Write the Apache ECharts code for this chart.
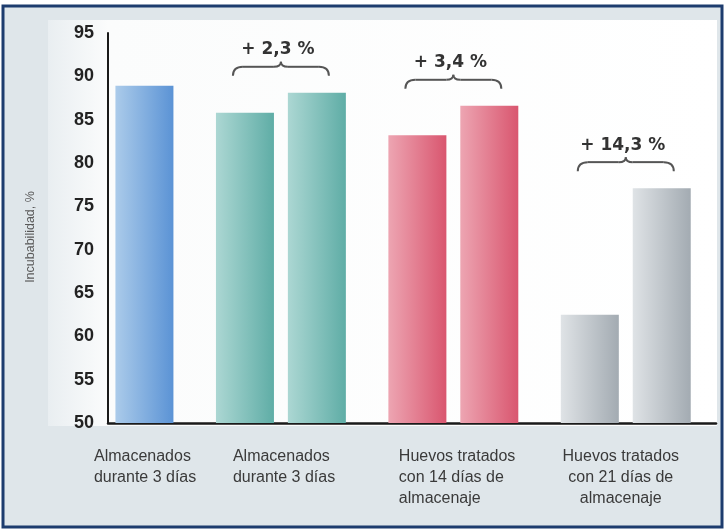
<!DOCTYPE html>
<html><head><meta charset="utf-8">
<script src="https://cdn.jsdelivr.net/npm/echarts@6/dist/echarts.min.js"></script>
<style>html,body{margin:0;padding:0;background:#fff}#c{width:726px;height:531px}</style>
</head><body><div id="c"></div>
<script>
// ---- data ----
const categories = [
  'Almacenados\ndurante 3 días',
  'Almacenados\ndurante 3 días',
  'Huevos tratados\ncon 14 días de\nalmacenaje',
  'Huevos tratados\ncon 21 días de\nalmacenaje'
];
const seriesBefore = [null, 85.8, 83.2, 62.5];
const seriesAfter  = [88.9, 88.1, 86.6, 77.1];
const gainLabels   = [null, '+ 2,3 %', '+ 3,4 %', '+ 14,3 %'];
const yMin = 50, yMax = 95, yStep = 5;
const yAxisName = 'Incubabilidad, %';

// ---- styles ----
const barColors = [
  ['#abcbea', '#5b93d5'],
  ['#acd7d3', '#5fada6'],
  ['#eda5b2', '#d9566f'],
  ['#dfe3e6', '#a3abb2']
];
function grad(pair){
  return new echarts.graphic.LinearGradient(0,0,1,0,[{offset:0,color:pair[0]},{offset:1,color:pair[1]}]);
}
const labelFont = {fontFamily:'"Liberation Sans", Arial, sans-serif', fontSize:16, color:'#3a3a3a', lineHeight:21};
const rich = {
  c0: Object.assign({width:120, align:'left', padding:[0,0,0,91]}, labelFont),
  c1: Object.assign({width:120, align:'left', padding:[0,0,0,24]}, labelFont),
  c2: Object.assign({width:132, align:'left', padding:[0,0,0,23]}, labelFont),
  c3: Object.assign({align:'center', padding:[0,10,0,0]}, labelFont)
};

const gainItems = [];
const gainText = [];
gainLabels.forEach((g,i)=>{
  if(g){ gainItems.push([i, Math.max(seriesBefore[i], seriesAfter[i])]); gainText.push(g); }
});

const chart = echarts.init(document.getElementById('c'), null, {renderer:'canvas'});
const option = {
  animation:false,
  backgroundColor:'#ffffff',
  graphic:[
    {type:'rect', z:-10, shape:{x:3,y:6,width:719,height:521}, style:{fill:'#dfe6ea', stroke:'#1d3c6e', lineWidth:3}},
    {type:'rect', z:-9, shape:{x:48,y:20,width:669,height:406},
     style:{fill:new echarts.graphic.LinearGradient(0,0,1,0,[{offset:0,color:'#e9eef1'},{offset:0.09,color:'#fbfcfc'},{offset:1,color:'#ffffff'}])}}
  ],
  grid:[
    {left:22, width:690, top:33, bottom:108},
    {left:108, right:10, top:33, bottom:108}
  ],
  xAxis:[
    {type:'category', gridIndex:0, data:categories,
     axisLine:{show:false}, axisTick:{show:false},
     axisLabel:{interval:0, margin:23,
       formatter:(v,idx)=>v.split('\n').map(l=>'{c'+idx+'|'+l+'}').join('\n'),
       rich:rich}},
    {type:'category', gridIndex:1, data:[''],
     axisLine:{show:true, lineStyle:{color:'#1a1a1a', width:2.5}},
     axisTick:{show:false}, axisLabel:{show:false}}
  ],
  yAxis:[
    {type:'value', gridIndex:0, min:yMin, max:yMax, interval:yStep, show:false},
    {type:'value', gridIndex:1, min:yMin, max:yMax, interval:yStep,
     name:yAxisName, nameLocation:'middle', nameRotate:90, nameGap:71,
     nameTextStyle:{fontFamily:'"Liberation Sans", Arial, sans-serif', fontSize:12.5, color:'#5a5a5a', padding:[0,18,0,0]},
     axisLine:{show:true, lineStyle:{color:'#1a1a1a', width:2}},
     axisTick:{show:false}, splitLine:{show:false},
     axisLabel:{margin:14, fontFamily:'"Liberation Sans", Arial, sans-serif', fontSize:18, fontWeight:'bold', color:'#222'}}
  ],
  series:[
    {type:'bar', xAxisIndex:0, yAxisIndex:0, data:seriesBefore, barWidth:58, barGap:'24%',
     itemStyle:{color:(p)=>grad(barColors[p.dataIndex])}},
    {type:'bar', xAxisIndex:0, yAxisIndex:0, data:seriesAfter, barWidth:58, barGap:'24%',
     itemStyle:{color:(p)=>grad(barColors[p.dataIndex])}},
    {type:'custom', xAxisIndex:0, yAxisIndex:0, data:gainItems, clip:false, z:5,
     renderItem:function(params, api){
       const p = api.coord([api.value(0), api.value(1)]);
       const cx = p[0], yb = p[1]-17, w = 48, h1 = 9, h2 = 14;
       const st = {stroke:'#555', lineWidth:2, fill:null};
       return {type:'group', children:[
         {type:'bezierCurve', shape:{x1:cx-w,y1:yb,cpx1:cx-w,cpy1:yb-h1,x2:cx-w+10,y2:yb-h1}, style:st},
         {type:'line', shape:{x1:cx-w+10,y1:yb-h1,x2:cx-7,y2:yb-h1}, style:st},
         {type:'bezierCurve', shape:{x1:cx-7,y1:yb-h1,cpx1:cx,cpy1:yb-h1,x2:cx,y2:yb-h2}, style:st},
         {type:'bezierCurve', shape:{x1:cx,y1:yb-h2,cpx1:cx,cpy1:yb-h1,x2:cx+7,y2:yb-h1}, style:st},
         {type:'line', shape:{x1:cx+7,y1:yb-h1,x2:cx+w-10,y2:yb-h1}, style:st},
         {type:'bezierCurve', shape:{x1:cx+w-10,y1:yb-h1,cpx1:cx+w,cpy1:yb-h1,x2:cx+w,y2:yb}, style:st},
         {type:'text', x:cx-3, y:yb-26, style:{text:gainText[params.dataIndex], fill:'#333',
           font:'bold 17px "DejaVu Sans", sans-serif', align:'center', verticalAlign:'middle'}}
       ]};
     }}
  ]
};
chart.setOption(option);
</script>
</body></html>
